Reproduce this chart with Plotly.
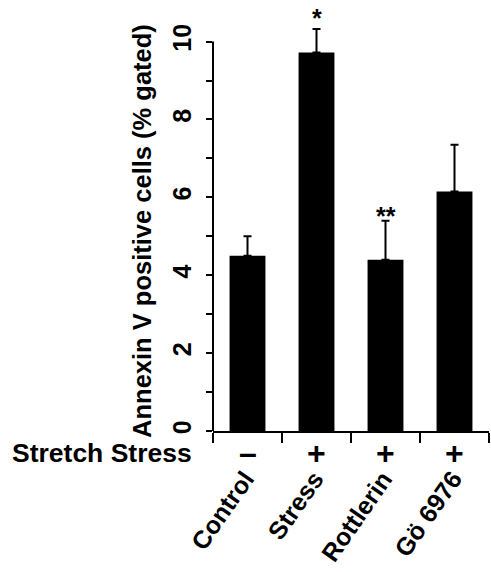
import plotly.graph_objects as go

categories = ["Control", "Stress", "Rottlerin", "Gö 6976"]
values = [4.5, 9.72, 4.4, 6.15]
errors_up = [0.5, 0.6, 1.0, 1.2]
stretch = ["\u2013", "+", "+", "+"]
stars = ["", "*", "**", ""]
ytick_vals = [0, 2, 4, 6, 8, 10]

FONT = "Liberation Sans, Arial, Helvetica, sans-serif"
STAR_SHIFT = {"*": -4, "**": -10}

fig = go.Figure()
fig.add_trace(go.Bar(
    x=categories, y=values, width=0.52,
    marker=dict(color="black", line=dict(width=0)),
    error_y=dict(type="data", symmetric=False, array=errors_up,
                 arrayminus=[0]*len(values), color="black", thickness=2, width=4),
    showlegend=False,
))

annotations = []
for c, s in zip(categories, stretch):
    annotations.append(dict(x=c, y=0, xref="x", yref="y", text=s, showarrow=False,
                            yanchor="middle", yshift=-22,
                            font=dict(family=FONT, size=32, color="black", weight="bold")))
for c in categories:
    annotations.append(dict(x=c, y=0, xref="x", yref="y", text=c, showarrow=False,
                            textangle=-55, xanchor="right", yanchor="top",
                            xshift=15, yshift=-32,
                            font=dict(family=FONT, size=25, color="black", weight="bold")))
for c, v, e, st in zip(categories, values, errors_up, stars):
    if st:
        annotations.append(dict(x=c, y=v + e, xref="x", yref="y", text=st, showarrow=False,
                                yanchor="bottom", yshift=STAR_SHIFT[st], borderpad=0,
                                font=dict(family=FONT, size=25, color="black", weight="bold")))
annotations.append(dict(x=0, y=0, xref="paper", yref="y", text="Stretch Stress", showarrow=False,
                        xanchor="right", yanchor="middle", xshift=-19, yshift=-22,
                        font=dict(family=FONT, size=26.5, color="black", weight="bold")))
annotations.append(dict(x=0, y=0.494, xref="paper", yref="paper",
                        text="Annexin V positive cells (% gated)", showarrow=False,
                        textangle=-90, xanchor="center", yanchor="middle", xshift=-71,
                        font=dict(family=FONT, size=25.5, color="black", weight="bold")))

fig.update_layout(
    width=491, height=572,
    margin=dict(l=213, r=2, t=26, b=141),
    paper_bgcolor="white", plot_bgcolor="white",
    annotations=annotations,
    shapes=[dict(type="line", xref="paper", yref="y", x0=0, x1=0, y0=0, y1=10,
                 line=dict(color="black", width=2))],
    xaxis=dict(
        type="category", range=[-0.5, 3.5], showline=True, linecolor="black", linewidth=2,
        ticks="outside", tickson="boundaries", ticklen=10, tickwidth=2, tickcolor="black",
        showticklabels=False, showgrid=False, zeroline=False,
    ),
    yaxis=dict(
        range=[0, 10.4], showline=False, showgrid=False, zeroline=False,
        tickvals=ytick_vals, ticktext=[str(v) for v in ytick_vals],
        ticks="outside", ticklen=6, tickwidth=2, tickcolor="black", tickangle=-90,
        ticklabelstandoff=5,
        minor=dict(tickvals=[1, 3, 5, 7, 9], ticks="outside", ticklen=6, tickwidth=2, tickcolor="black"),
        tickfont=dict(family=FONT, size=25, color="black", weight="bold"),
    ),
)

fig.write_html("out.html", config={"displayModeBar": False},
               post_script="document.body.style.margin='0';")
